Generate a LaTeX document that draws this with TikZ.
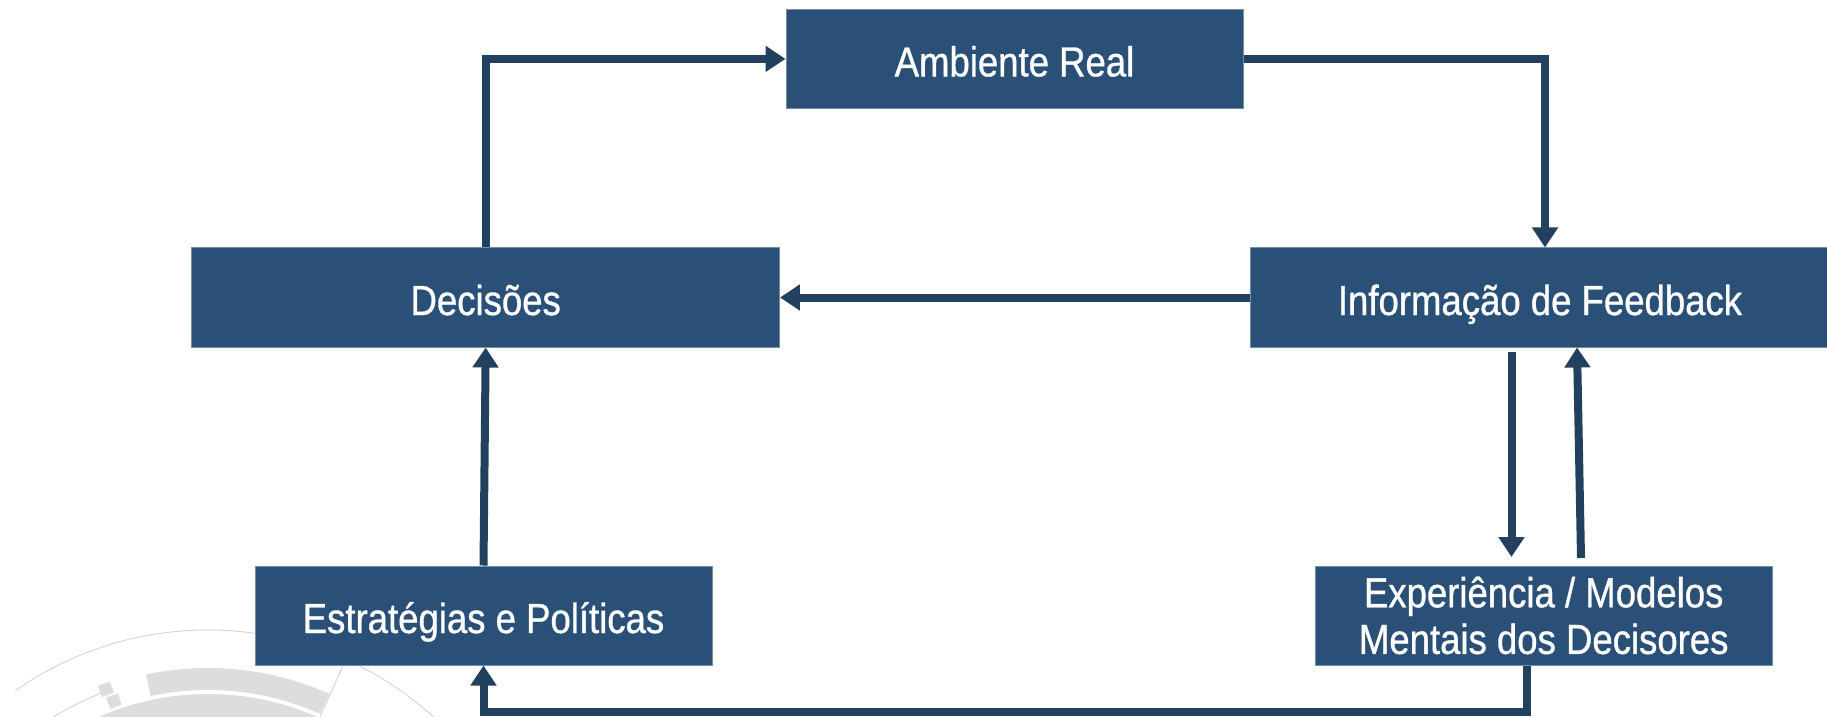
\documentclass[tikz,border=0pt]{standalone}
\usepackage{fontspec}
\setmainfont{Liberation Sans}[FakeStretch=0.87,FakeBold=0.8]
\usetikzlibrary{arrows.meta,calc}
\definecolor{boxfill}{HTML}{2A5078}
\definecolor{boxline}{HTML}{6F8FB4}
\definecolor{arrcol}{HTML}{21415F}
\definecolor{wmgray}{HTML}{DDDDDD}
\definecolor{wmline}{HTML}{D6D6D6}
\begin{document}
\begin{tikzpicture}[x=1pt,y=1pt,
  box/.style={draw=boxline, line width=1pt, fill=boxfill, text=white,
    minimum height=99pt, inner sep=0pt, align=center,
    font=\fontsize{42}{46.6}\selectfont},
  oneline/.style={text height=35pt, text depth=0pt},
  arr/.style={draw=arrcol, line width=8pt, -{Triangle[width=25pt,length=20pt]}},
  wm/.style={draw=wmline, line width=1pt}
]
\useasboundingbox (0,0) rectangle (1827,716);
% watermark (background logo)
\coordinate (wc) at (208,-250);
\draw[wm] ($(wc)+(125:336)$) arc[start angle=125,end angle=40,radius=336];
\fill[wmgray] ($(wc)+(102:298)$) arc[start angle=102,end angle=66,radius=298]
  -- ($(wc)+(66:276)$) arc[start angle=66,end angle=102,radius=276] -- cycle;
\fill[wmgray] ($(wc)+(116:272)$) arc[start angle=116,end angle=66,radius=272]
  -- ($(wc)+(66:230)$) arc[start angle=66,end angle=116,radius=230] -- cycle;
\fill[wmgray] ($(wc)+(111.5:301)$) arc[start angle=111.5,end angle=109,radius=301]
  -- ($(wc)+(109:289)$) arc[start angle=109,end angle=111.5,radius=289] -- cycle;
\fill[wmgray] ($(wc)+(110.8:287)$) arc[start angle=110.8,end angle=108.3,radius=287]
  -- ($(wc)+(108.3:275)$) arc[start angle=108.3,end angle=110.8,radius=275] -- cycle;
\draw[wm] ($(wc)+(124:293)$) arc[start angle=124,end angle=111,radius=293];
\draw[wm] ($(wc)+(65.8:336)$) -- ($(wc)+(65.8:230)$);
% boxes
\node[box, oneline, minimum width=457pt] (amb) at (1014.5,657.1) {Ambiente Real};
\node[box, oneline, minimum width=587.5pt] (dec) at (485.7,418.5) {Decisões};
\node[box, oneline, minimum width=580pt] (fb) at (1540,418.5) {Informação de Feedback};
\node[box, oneline, minimum width=457pt] (est) at (483.5,100.5) {Estratégias e Políticas};
\node[box, minimum width=457pt] (exp) at (1543.7,100.5) {Experiência / Modelos\\Mentais dos Decisores};
% connectors
\coordinate (fbin) at ($(fb.north)+(5,0)$);
\coordinate (dtop) at (1511.5,364);
\coordinate (dbot) at (1511.5,159);
\coordinate (ubot) at (1581,158);
\coordinate (utop) at (1577,368.5);
\coordinate (eout) at ($(exp.south)+(-17,0)$);
\coordinate (eturn) at ($(est.south)+(0,-46)$);
\draw[arr] (dec.north) |- (amb.west);
\draw[arr] (amb.east) -| (fbin);
\draw[arr] (fb.west) -- (dec.east);
\draw[arr] (dtop) -- (dbot);
\draw[arr] (ubot) -- (utop);
\draw[arr] (eout) |- (eturn) -- (est.south);
\draw[arr] (est.north) -- (dec.south);
\end{tikzpicture}
\end{document}
